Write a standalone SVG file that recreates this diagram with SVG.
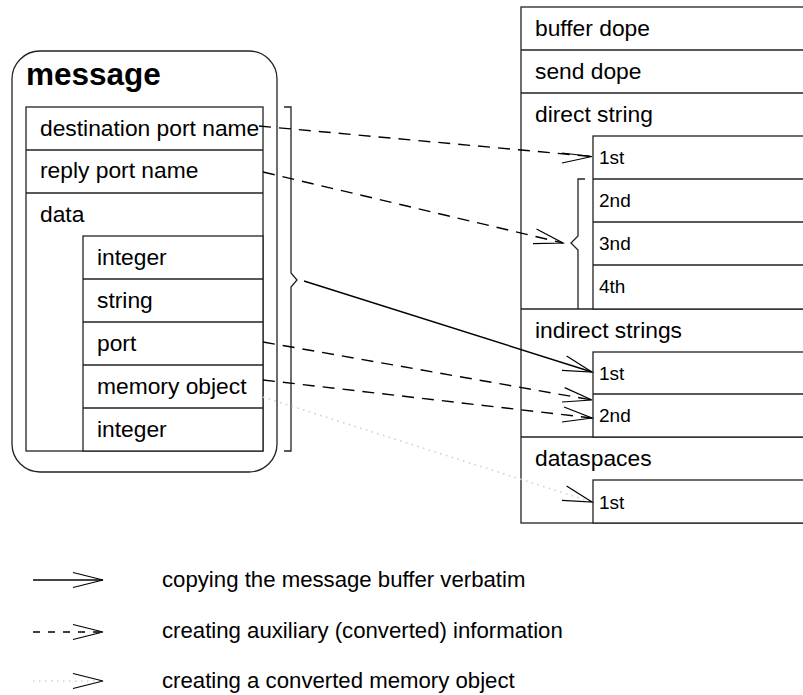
<svg xmlns="http://www.w3.org/2000/svg" width="803" height="695" viewBox="0 0 803 695">
  <style>
    text { font-family: "Liberation Sans", Arial, Helvetica, sans-serif; fill: #000; }
    .lbl { font-size: 22.8px; }
    .leg { font-size: 22.2px; }
    .sub { font-size: 19px; }
    .title { font-size: 31.5px; font-weight: bold; }
    .box { fill: #fff; stroke: #222; stroke-width: 1.3; }
    .ln { fill: none; stroke: #222; stroke-width: 1.3; }
    .solid { fill: none; stroke: #000; stroke-width: 1.4; }
    .dash { fill: none; stroke: #000; stroke-width: 1.4; stroke-dasharray: 12 8; }
    .dot { fill: none; stroke: #cfcfcf; stroke-width: 1.6; stroke-dasharray: 1.5 4.5; }
    .head { fill: none; stroke: #000; stroke-width: 1.2; }
  </style>
  <rect width="803" height="695" fill="#fff"/>

  <!-- message layout -->
  <g id="message">
    <rect class="box" x="12" y="51" width="265" height="421" rx="28" ry="28"/>
    <text class="title" x="26" y="85">message</text>
    <rect class="box" x="26" y="107" width="237" height="344"/>
    <line class="ln" x1="26" y1="150" x2="263" y2="150"/>
    <line class="ln" x1="26" y1="193" x2="263" y2="193"/>
    <rect class="box" x="83" y="236" width="180" height="215"/>
    <line class="ln" x1="83" y1="279" x2="263" y2="279"/>
    <line class="ln" x1="83" y1="322" x2="263" y2="322"/>
    <line class="ln" x1="83" y1="365" x2="263" y2="365"/>
    <line class="ln" x1="83" y1="408" x2="263" y2="408"/>
    <text class="lbl" x="40" y="136">destination port name</text>
    <text class="lbl" x="40" y="178">reply port name</text>
    <text class="lbl" x="40" y="222">data</text>
    <text class="lbl" x="97" y="265">integer</text>
    <text class="lbl" x="97" y="308">string</text>
    <text class="lbl" x="97" y="351">port</text>
    <text class="lbl" x="97" y="394">memory object</text>
    <text class="lbl" x="97" y="437">integer</text>
  </g>

  <!-- kernel buffer layout -->
  <g id="buffer">
    <rect class="box" x="521" y="7" width="300" height="516"/>
    <line class="ln" x1="521" y1="50" x2="803" y2="50"/>
    <line class="ln" x1="521" y1="93" x2="803" y2="93"/>
    <line class="ln" x1="521" y1="309" x2="803" y2="309"/>
    <line class="ln" x1="521" y1="437" x2="803" y2="437"/>
    <rect class="box" x="593" y="136" width="230" height="173"/>
    <line class="ln" x1="593" y1="179" x2="803" y2="179"/>
    <line class="ln" x1="593" y1="222" x2="803" y2="222"/>
    <line class="ln" x1="593" y1="265" x2="803" y2="265"/>
    <rect class="box" x="593" y="352" width="230" height="85"/>
    <line class="ln" x1="593" y1="394" x2="803" y2="394"/>
    <rect class="box" x="593" y="480" width="230" height="43"/>
    <text class="lbl" x="535" y="36">buffer dope</text>
    <text class="lbl" x="535" y="79">send dope</text>
    <text class="lbl" x="535" y="122">direct string</text>
    <text class="lbl" x="535" y="338">indirect strings</text>
    <text class="lbl" x="535" y="466">dataspaces</text>
    <text class="sub" x="599" y="164">1st</text>
    <text class="sub" x="599" y="207">2nd</text>
    <text class="sub" x="599" y="250">3nd</text>
    <text class="sub" x="599" y="293">4th</text>
    <text class="sub" x="599" y="380">1st</text>
    <text class="sub" x="599" y="422">2nd</text>
    <text class="sub" x="599" y="509">1st</text>
  </g>

  <!-- braces grouping several fields -->
  <g id="braces">
    <polyline class="ln" points="284,107 291,107 291,273 297,280 291,287 291,451 284,451"/>
    <polyline class="ln" points="585,179 578,179 578,236 571,243 578,250 578,309"/>
  </g>

  <!-- connectors -->
  <g id="connectors">
    <line class="dash" x1="259" y1="126" x2="592" y2="156.5"/>
    <polyline class="head" points="562,153 592,156.5 562,163"/>

    <line class="dash" x1="263" y1="172" x2="563" y2="243"/>
    <polyline class="head" points="536.5,229 563,243 533,243.6"/>

    <line class="solid" x1="304" y1="281" x2="592" y2="372"/>
    <polyline class="head" points="566.6,356 592,372 562,370.4"/>

    <line class="dash" x1="263" y1="342" x2="592" y2="400"/>
    <polyline class="head" points="564.7,387.6 592,400 562,402"/>

    <line class="dash" x1="263" y1="380" x2="592" y2="418"/>
    <polyline class="head" points="564,407 592,418 562,422"/>

    <line class="dot" x1="263" y1="397" x2="592" y2="502"/>
    <polyline class="head" points="566.6,486 592,502 562,500.3"/>
  </g>

  <!-- legend -->
  <g id="legend">
    <line x1="33" y1="580" x2="103" y2="580" stroke="#444" stroke-width="2"/>
    <polyline class="head" points="73,572.5 103,580 73,587.5"/>
    <text class="leg" x="162" y="587">copying the message buffer verbatim</text>

    <line x1="33" y1="632" x2="103" y2="632" stroke="#000" stroke-width="1.4" stroke-dasharray="7 8"/>
    <polyline class="head" points="73,624.5 103,632 73,639.5"/>
    <text class="leg" x="162" y="638">creating auxiliary (converted) information</text>

    <line class="dot" x1="33" y1="681" x2="103" y2="681"/>
    <polyline class="head" points="73,673.5 103,681 73,688.5"/>
    <text class="leg" x="162" y="688">creating a converted memory object</text>
  </g>
</svg>
